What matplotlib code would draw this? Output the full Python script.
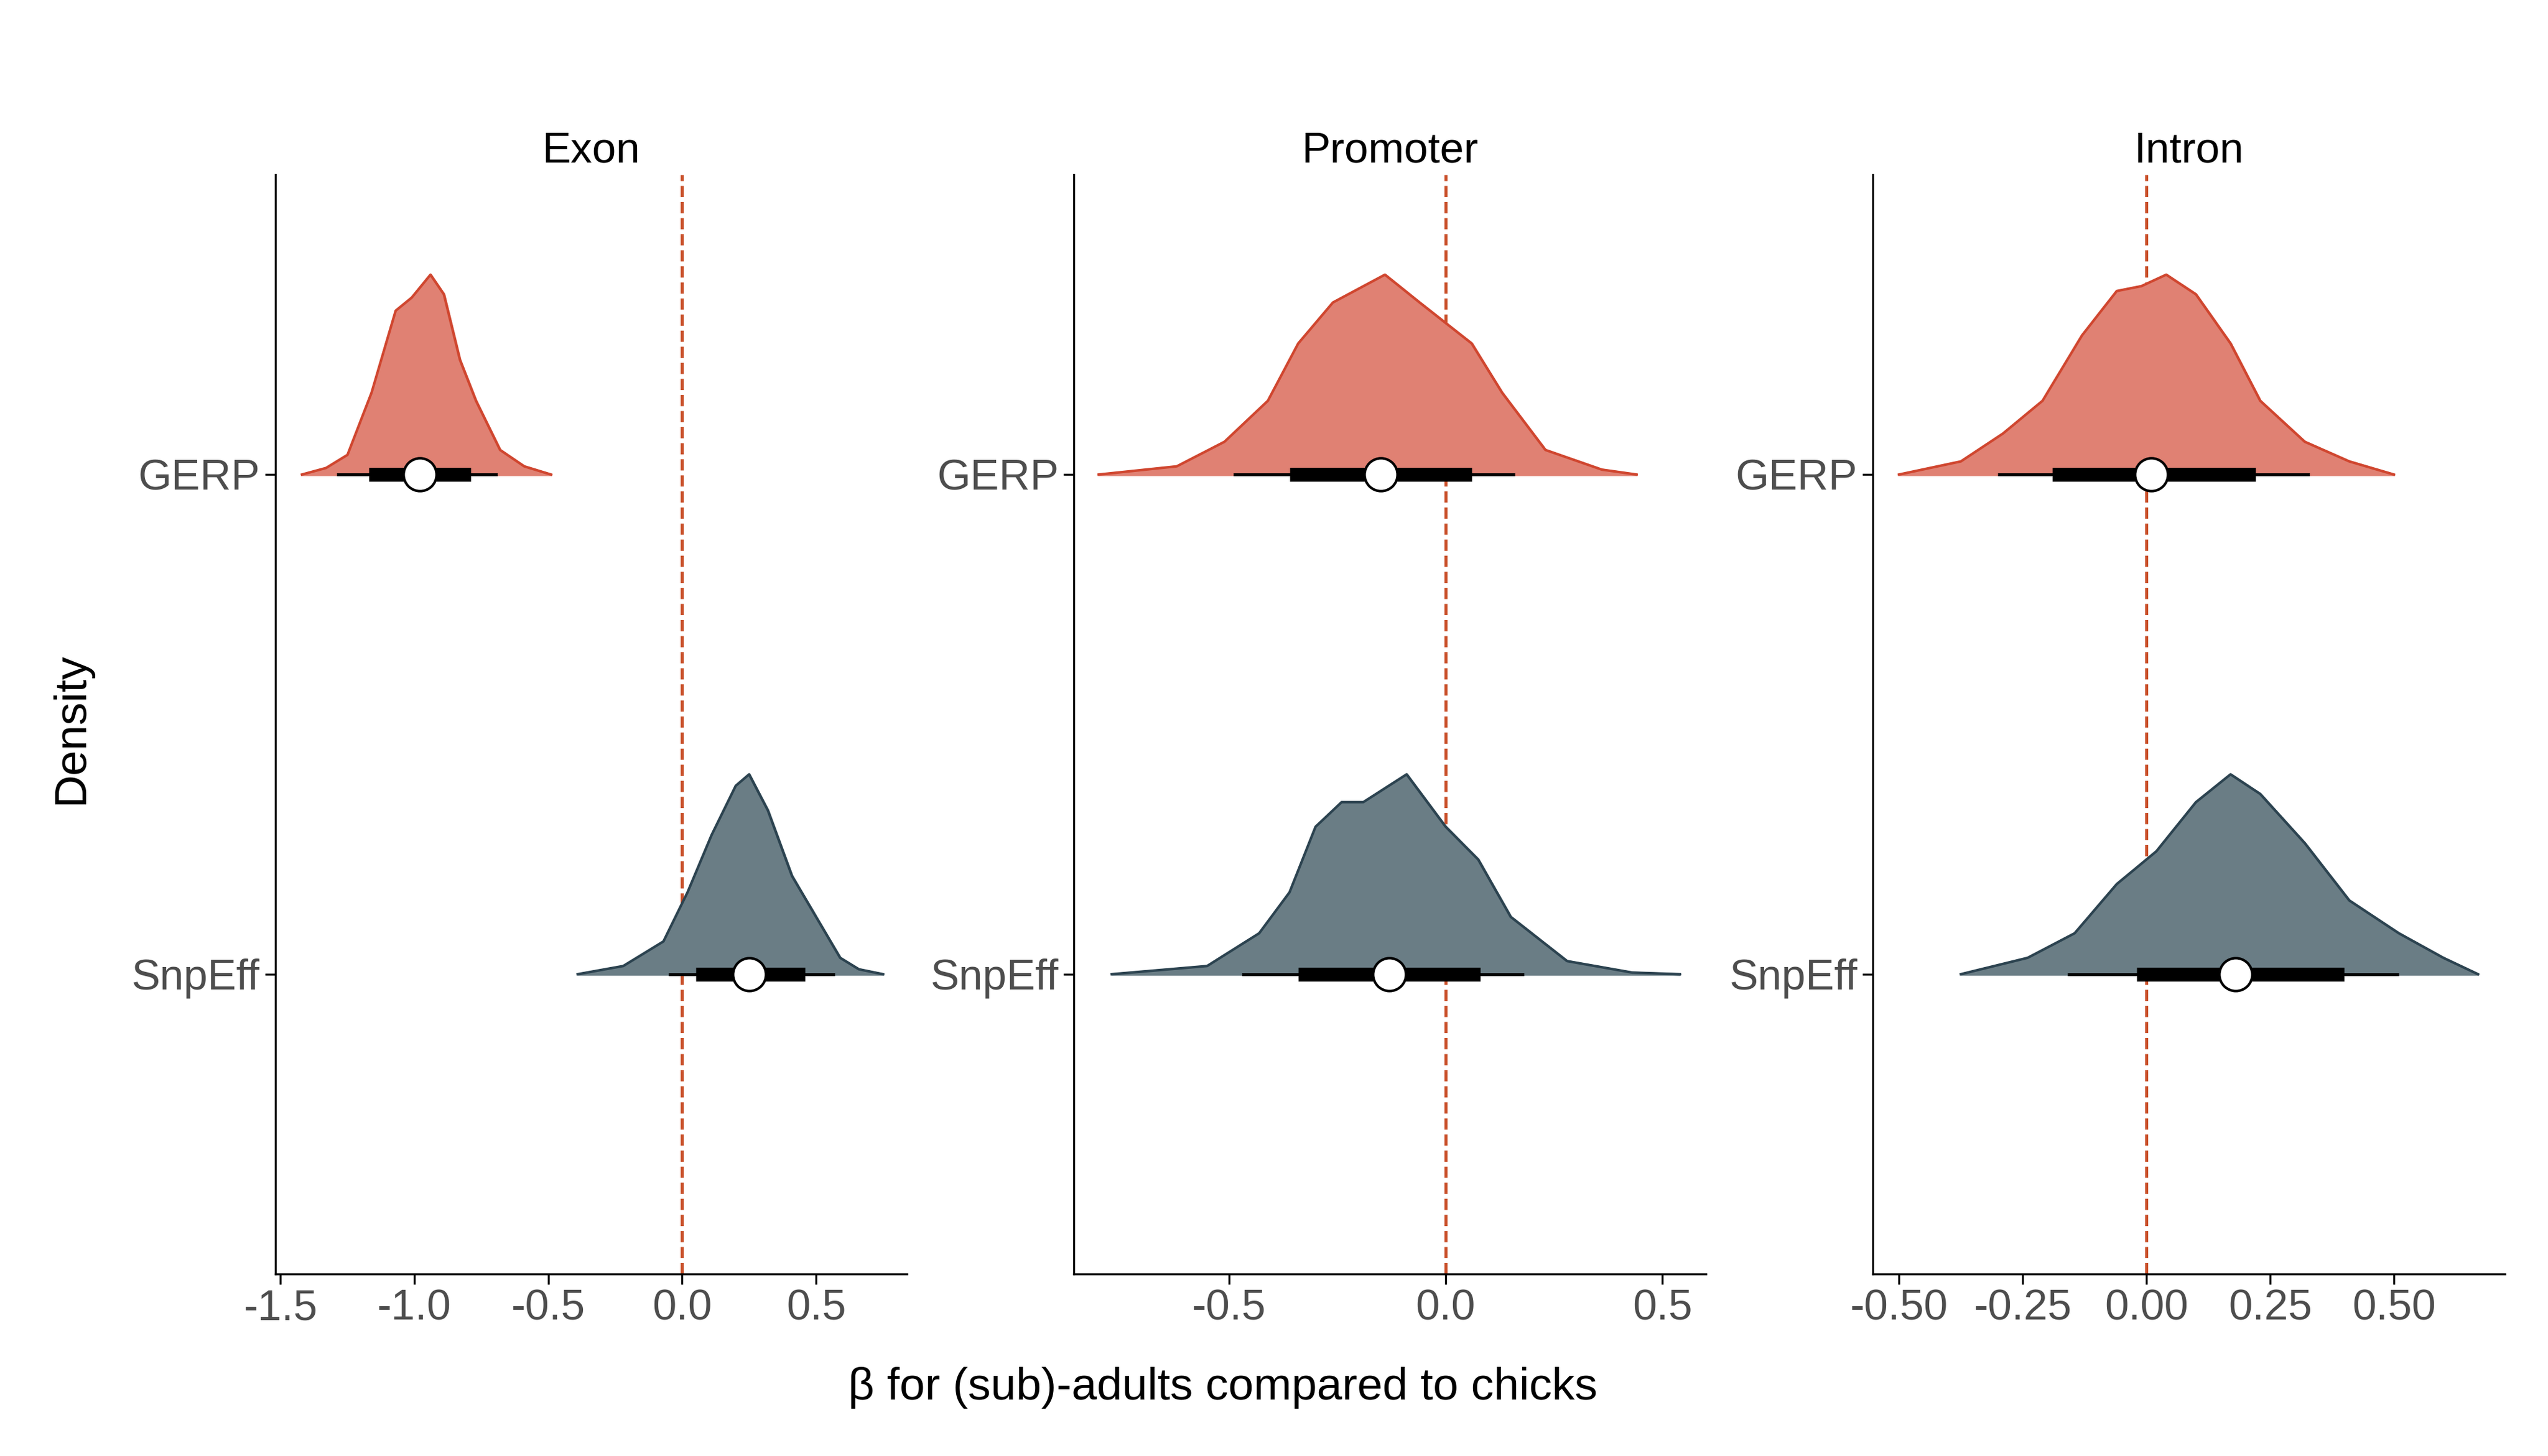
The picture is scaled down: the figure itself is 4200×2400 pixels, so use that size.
import matplotlib.pyplot as plt
import numpy as np

plt.rcParams['font.family'] = ['Liberation Sans', 'DejaVu Sans']

panels = ["Exon", "Promoter", "Intron"]
groups = ["GERP", "SnpEff"]

# density outlines: x values and relative heights (peak = 122)
dens_x = {
    ("Exon", "GERP"): [-1.42, -1.33, -1.25, -1.16, -1.07, -1.01, -0.94, -0.89, -0.83, -0.77, -0.68, -0.59, -0.49],
    ("Exon", "SnpEff"): [-0.39, -0.22, -0.07, 0.02, 0.11, 0.20, 0.25, 0.32, 0.41, 0.50, 0.59, 0.66, 0.75],
    ("Promoter", "GERP"): [-0.80, -0.62, -0.51, -0.41, -0.34, -0.26, -0.14, -0.06, 0.06, 0.13, 0.23, 0.36, 0.44],
    ("Promoter", "SnpEff"): [-0.77, -0.55, -0.43, -0.36, -0.30, -0.24, -0.19, -0.09, 0.0, 0.075, 0.15, 0.28, 0.43, 0.54],
    ("Intron", "GERP"): [-0.50, -0.375, -0.29, -0.21, -0.13, -0.06, -0.01, 0.04, 0.10, 0.17, 0.23, 0.32, 0.41, 0.50],
    ("Intron", "SnpEff"): [-0.375, -0.24, -0.145, -0.06, 0.02, 0.10, 0.17, 0.23, 0.32, 0.41, 0.51, 0.60, 0.67],
}
dens_h = {
    ("Exon", "GERP"): [0, 4, 12, 50, 100, 108, 122, 110, 70, 45, 15, 5, 0],
    ("Exon", "SnpEff"): [0, 5, 20, 50, 85, 115, 122, 100, 60, 35, 10, 3, 0],
    ("Promoter", "GERP"): [0, 5, 20, 45, 80, 105, 122, 105, 80, 50, 15, 3, 0],
    ("Promoter", "SnpEff"): [0, 5, 25, 50, 90, 105, 105, 122, 90, 70, 35, 8, 1, 0],
    ("Intron", "GERP"): [0, 8, 25, 45, 85, 112, 115, 122, 110, 80, 45, 20, 8, 0],
    ("Intron", "SnpEff"): [0, 10, 25, 55, 75, 105, 122, 110, 80, 45, 25, 10, 0],
}
# point estimate, 66% interval, 95% interval
point = {("Exon", "GERP"): -0.98, ("Exon", "SnpEff"): 0.25,
         ("Promoter", "GERP"): -0.15, ("Promoter", "SnpEff"): -0.13,
         ("Intron", "GERP"): 0.01, ("Intron", "SnpEff"): 0.18}
ci66 = {("Exon", "GERP"): (-1.17, -0.79), ("Exon", "SnpEff"): (0.05, 0.46),
        ("Promoter", "GERP"): (-0.36, 0.06), ("Promoter", "SnpEff"): (-0.34, 0.08),
        ("Intron", "GERP"): (-0.19, 0.22), ("Intron", "SnpEff"): (-0.02, 0.40)}
ci95 = {("Exon", "GERP"): (-1.29, -0.69), ("Exon", "SnpEff"): (-0.05, 0.57),
        ("Promoter", "GERP"): (-0.49, 0.16), ("Promoter", "SnpEff"): (-0.47, 0.18),
        ("Intron", "GERP"): (-0.30, 0.33), ("Intron", "SnpEff"): (-0.16, 0.51)}

xlims = {"Exon": (-1.52, 0.84), "Promoter": (-0.857, 0.60), "Intron": (-0.553, 0.724)}
xticks = {"Exon": [-1.5, -1.0, -0.5, 0.0, 0.5],
          "Promoter": [-0.5, 0.0, 0.5],
          "Intron": [-0.5, -0.25, 0.0, 0.25, 0.5]}
xticklabels = {"Exon": ["-1.5", "-1.0", "-0.5", "0.0", "0.5"],
               "Promoter": ["-0.5", "0.0", "0.5"],
               "Intron": ["-0.50", "-0.25", "0.00", "0.25", "0.50"]}

fill_col = {"GERP": "#E08173", "SnpEff": "#6A7D85"}
edge_col = {"GERP": "#D0462F", "SnpEff": "#2C4350"}
ypos = {"GERP": 2, "SnpEff": 1}

fig = plt.figure(figsize=(14, 8), dpi=300)
left0, width, gap = 0.108, 0.248, 0.0655
for i, p in enumerate(panels):
    ax = fig.add_axes([left0 + i * (width + gap), 0.125, width, 0.755])
    for g in groups:
        k = (p, g)
        x = np.array(dens_x[k])
        h = np.array(dens_h[k]) / 122 * 0.4
        y0 = ypos[g]
        ax.fill_between(x, y0, y0 + h, color=fill_col[g], zorder=2)
        ax.plot(x, y0 + h, color=edge_col[g], lw=1, zorder=3)
        ax.plot(ci95[k], [y0, y0], color="black", lw=1.2, zorder=4, solid_capstyle="butt")
        ax.plot(ci66[k], [y0, y0], color="black", lw=5.5, zorder=4, solid_capstyle="butt")
        ax.plot(point[k], y0, "o", ms=13, mfc="white", mec="black", mew=1, zorder=5)
    ax.axvline(0, color="#C9502A", ls="--", lw=1.2, zorder=1)
    ax.set_xlim(*xlims[p])
    ax.set_ylim(0.4, 2.6)
    ax.set_xticks(xticks[p])
    ax.set_xticklabels(xticklabels[p])
    ax.set_yticks([2, 1])
    ax.set_yticklabels(groups)
    ax.tick_params(labelsize=17, colors="#4D4D4D", length=4, pad=2)
    ax.tick_params(color="black")
    for s in ["top", "right"]:
        ax.spines[s].set_visible(False)
    ax.set_title(p, fontsize=17, pad=5)

fig.text(0.028, 0.5, "Density", rotation=90, va="center", ha="center", fontsize=18)
fig.text(0.48, 0.047, "β for (sub)-adults compared to chicks", ha="center", va="center", fontsize=18)
fig.savefig("out.png", dpi=300, facecolor="white")
